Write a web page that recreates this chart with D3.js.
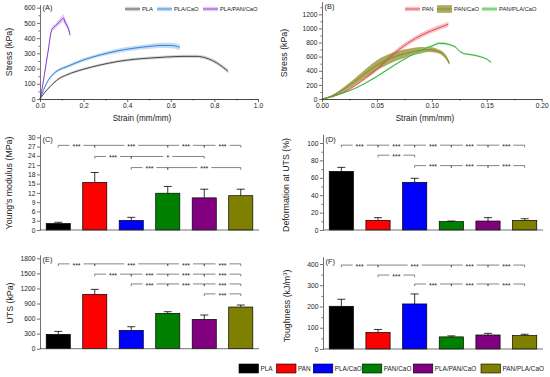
<!DOCTYPE html>
<html><head><meta charset="utf-8">
<script src="https://cdn.jsdelivr.net/npm/d3@7"></script>
<style>
body{margin:0;background:#fff}
text{font-family:"Liberation Sans",Arial,sans-serif;fill:#222}
</style>
</head><body>
<svg id="c" width="550" height="377"></svg>
<script>
// ---------------- DATA ----------------
const groups = ["PLA","PAN","PLA/CaO","PAN/CaO","PLA/PAN/CaO","PAN/PLA/CaO"];
const barColors = ["#000000","#ff0000","#0000ff","#008000","#800080","#808000"];

const youngMean = [2.1,15.4,3.1,11.9,10.4,11.1];
const youngSd   = [0.4,3.2,1.0,2.2,2.8,2.1];
const deformMean = [67.4,11.1,54.8,9.6,10.3,11.1];
const deformSd   = [4.6,3.1,4.6,0.7,3.9,1.9];
const utsMean = [286,1083,365,704,584,830];
const utsSd   = [59,99,73,33,87,40];
const toughMean = [201,78,212,57,66,63];
const toughSd   = [33,14,47,4.7,7.8,6.3];

// significance brackets: [group i, group j, label, height (data units)]
const sigC = [[0,1,"***",27.4],[1,3,"***",27.4],[3,4,"***",27.4],[4,5,"***",27.4],
              [1,2,"***",23.8],[2,4,"*",23.8],
              [2,3,"***",20.2],[3,5,"***",20.2]];
const sigD = [[0,1,"***",97.5],[1,2,"***",97.5],[2,3,"***",97.5],[3,4,"***",97.5],[4,5,"***",97.5],
              [1,2,"***",86],
              [2,3,"***",74],[3,4,"***",74],[4,5,"***",74]];
const sigE = [[0,1,"***",1690],[1,3,"***",1690],[3,4,"***",1690],[4,5,"***",1690],
              [1,2,"***",1485],[2,3,"***",1485],[3,4,"***",1485],[4,5,"***",1485],
              [2,3,"***",1290],[3,4,"***",1290],[4,5,"***",1290],
              [4,5,"***",1092]];
const sigF = [[0,1,"***",395],[1,3,"***",395],[3,4,"***",395],[4,5,"***",395],
              [1,2,"***",348],
              [2,3,"***",306],[3,4,"***",306],[4,5,"***",306]];

// stress-strain curves, panel A
const plaStrain = [0,0.02,0.046,0.084,0.122,0.198,0.275,0.351,0.427,0.504,0.58,0.656,0.72,0.771,0.809,0.84,0.863];
const plaStress = [0,40,81,131,158,195,223,245,260,269,276,280,280,265,239,208,182];
const plaSd     = [0,4,6,7,8,8,8,9,9,10,10,10,10,11,12,13,14];

const plaCaoStrain = [0,0.015,0.03,0.061,0.092,0.122,0.198,0.275,0.351,0.427,0.504,0.55,0.6,0.641];
const plaCaoStress = [0,55,103,164,195,212,256,289,315,333,346,352,352,340];
const plaCaoSd     = [0,5,7,9,10,10,11,12,14,15,16,17,18,18];

const plaPanCaoStrain = [0,0.01,0.02,0.03,0.04,0.048,0.054,0.069,0.084,0.098,0.107,0.115,0.125,0.132,0.138];
const plaPanCaoStress = [0,70,160,250,340,420,455,478,500,520,532,505,480,455,420];
const plaPanCaoSd     = [0,5,8,10,12,14,15,15,18,22,25,22,20,18,15];

// panel B
const panStrain = [0,0.01,0.02,0.03,0.04,0.05,0.06,0.07,0.08,0.09,0.1,0.11,0.115];
const panStress = [0,35,100,190,300,420,570,700,810,900,970,1030,1060];
const panSd     = [0,5,10,15,20,25,30,35,35,35,35,35,35];

const panCaoStrain = [0,0.01,0.02,0.03,0.04,0.05,0.06,0.07,0.08,0.09,0.097,0.105,0.11,0.113,0.116];
const panCaoStress = [0,50,140,250,370,480,560,620,660,690,700,680,640,590,505];
const panCaoSd     = [0,15,30,45,60,70,70,65,55,45,35,30,30,30,25];

const panPlaCaoStrain = [0,0.01,0.02,0.03,0.04,0.05,0.06,0.07,0.08,0.09,0.1,0.107,0.112,0.118,0.122,0.125,0.13,0.137,0.144,0.15,0.154];
const panPlaCaoStress = [0,40,90,150,230,320,420,520,610,690,750,789,785,760,730,680,640,625,600,565,520];
const panPlaCaoSd     = [0,5,8,10,12,14,15,15,16,17,18,18,18,16,15,15,14,14,13,12,12];

const aXTicks = [0,0.2,0.4,0.6,0.8,1.0];
const aYTicks = [0,100,200,300,400,500,600];
const bXTicks = [0,0.05,0.1,0.15,0.2];
const bYTicks = [0,200,400,600,800,1000,1200];
const cTicks = [0,3,6,9,12,15,18,21,24,27,30];
const dTicks = [0,20,40,60,80,100];
const eTicks = [0,300,600,900,1200,1500,1800];
const fTicks = [0,100,200,300,400];

// ---------------- DRAWING ----------------
const svg = d3.select("#c");
const FT = 6.7, FTitle = 8.8, FX = 8.2;

function yAxis(g, scale, ticks, minor, x, fmt){
  const gg = g.append("g").attr("transform",`translate(${x},0)`);
  gg.call(d3.axisLeft(scale).tickValues(ticks).tickSize(3).tickSizeOuter(0).tickPadding(1.5).tickFormat(fmt||d3.format("d")));
  if(minor) gg.append("g").call(d3.axisLeft(scale).tickValues(minor).tickSize(1.6).tickSizeOuter(0).tickFormat(""));
  gg.selectAll("path,line").attr("stroke","#333").attr("stroke-width",0.7);
  gg.selectAll("text").attr("font-size",FT).attr("fill","#222");
  gg.selectAll(".domain").filter((d,i,n)=>n[i].parentNode!==gg.node()).remove();
  return gg;
}
function xAxis(g, scale, ticks, minor, y, fmt){
  const gg = g.append("g").attr("transform",`translate(0,${y})`);
  gg.call(d3.axisBottom(scale).tickValues(ticks).tickSize(3).tickSizeOuter(0).tickPadding(1.5).tickFormat(fmt));
  if(minor) gg.append("g").call(d3.axisBottom(scale).tickValues(minor).tickSize(1.6).tickSizeOuter(0).tickFormat(""));
  gg.selectAll("path,line").attr("stroke","#333").attr("stroke-width",0.7);
  gg.selectAll("text").attr("font-size",FT).attr("fill","#222");
  return gg;
}
function yTitle(x, y){
  return svg.append("text").attr("transform",`translate(${x},${y}) rotate(-90)`)
    .attr("text-anchor","middle").attr("font-size",FTitle);
}

// ---- curve panels ----
function curvePanel(opt){
  const g = svg.append("g");
  const x = d3.scaleLinear().domain(opt.xd).range(opt.xr);
  const y = d3.scaleLinear().domain(opt.yd).range(opt.yr);
  opt.series.forEach(s=>{
    const pts = s.x.map((v,i)=>({x:v,y:s.y[i],sd:s.sd[i]}));
    g.append("path").datum(pts).attr("fill",s.band).attr("fill-opacity",s.bandOp||0.55)
      .attr("d",d3.area().x(d=>x(d.x)).y0(d=>y(Math.max(0,d.y-d.sd))).y1(d=>y(d.y+d.sd)).curve(d3.curveMonotoneX));
  });
  opt.series.forEach(s=>{
    const pts = s.x.map((v,i)=>({x:v,y:s.y[i]}));
    g.append("path").datum(pts).attr("fill","none").attr("stroke",s.line).attr("stroke-width",1)
      .attr("d",d3.line().x(d=>x(d.x)).y(d=>y(d.y)).curve(d3.curveMonotoneX));
  });
  yAxis(g,y,opt.yt,opt.ym,opt.xr[0]);
  xAxis(g,x,opt.xt,opt.xm,opt.yr[0],opt.xf);
  g.append("text").attr("x",opt.xr[0]+2.5).attr("y",opt.labY).attr("font-size",7.4).text(opt.label);
  g.append("text").attr("x",opt.xtx).attr("y",opt.yr[0]+22).attr("text-anchor","middle").attr("font-size",FX).text("Strain (mm/mm)");
  yTitle(opt.ytx,opt.yty).text("Stress (kPa)");
  // legend
  opt.series.forEach((s,i)=>{
    const lx = opt.legX[i], ly = 9;
    g.append("rect").attr("x",lx).attr("y",ly-(s.legH||2.2)).attr("width",15).attr("height",2*(s.legH||2.2))
      .attr("fill",s.band).attr("fill-opacity",s.bandOp||0.55);
    g.append("line").attr("x1",lx).attr("x2",lx+15).attr("y1",ly).attr("y2",ly).attr("stroke",s.line).attr("stroke-width",0.9);
    g.append("text").attr("x",lx+17).attr("y",ly+2).attr("font-size",5.8).text(s.name);
  });
}

curvePanel({
  xd:[0,1],xr:[40,258],yd:[0,620],yr:[99,99-620*0.1522],
  xt:aXTicks,xm:[0.1,0.3,0.5,0.7,0.9],xf:d3.format(".1f"),
  yt:aYTicks,ym:[50,150,250,350,450,550],
  label:"(A)",labY:10,xtx:142,ytx:12,yty:52,legX:[125,157,203],
  series:[
    {name:"PLA",x:plaStrain,y:plaStress,sd:plaSd,line:"#4a4a4a",band:"#a8a8a8",bandOp:0.5},
    {name:"PLA/CaO",x:plaCaoStrain,y:plaCaoStress,sd:plaCaoSd,line:"#3b7fd4",band:"#8cc0ee",bandOp:0.55},
    {name:"PLA/PAN/CaO",x:plaPanCaoStrain,y:plaPanCaoStress,sd:plaPanCaoSd,line:"#8a36d0",band:"#d4a6f0",bandOp:0.6}
  ]
});
curvePanel({
  xd:[0,0.2],xr:[322,541.7],yd:[0,1380],yr:[99,99-1380*0.07058],
  xt:bXTicks,xm:[0.025,0.075,0.125,0.175],xf:d3.format(".2f"),
  yt:bYTicks,ym:[100,300,500,700,900,1100,1300],
  label:"(B)",labY:9,xtx:425,ytx:287,yty:53,legX:[405,437,482],
  series:[
    {name:"PAN",x:panStrain,y:panStress,sd:panSd,line:"#e8454d",band:"#f39aa2",bandOp:0.6},
    {name:"PAN/CaO",x:panCaoStrain,y:panCaoStress,sd:panCaoSd,line:"#8c8a2c",band:"#8e8c2a",bandOp:0.75,legH:3.8},
    {name:"PAN/PLA/CaO",x:panPlaCaoStrain,y:panPlaCaoStress,sd:panPlaCaoSd,line:"#34b234",band:"#98e098",bandOp:0.6}
  ]
});

// ---- bar panels ----
function barPanel(opt){
  const g = svg.append("g");
  const x = d3.scaleBand().domain(groups).range(opt.xr).paddingInner(0.34).paddingOuter(0.17);
  const y = d3.scaleLinear().domain(opt.yd).range(opt.yr);
  const cx = i=>x(groups[i])+x.bandwidth()/2;
  groups.forEach((k,i)=>{
    const top = y(opt.mean[i]+opt.sd[i]);
    g.append("line").attr("x1",cx(i)).attr("x2",cx(i)).attr("y1",y(opt.mean[i])).attr("y2",top).attr("stroke","#000").attr("stroke-width",0.8);
    g.append("line").attr("x1",cx(i)-4).attr("x2",cx(i)+4).attr("y1",top).attr("y2",top).attr("stroke","#000").attr("stroke-width",0.8);
  });
  g.selectAll("rect.bar").data(groups).join("rect").attr("class","bar")
    .attr("x",d=>x(d)).attr("width",x.bandwidth())
    .attr("y",(d,i)=>y(opt.mean[i])).attr("height",(d,i)=>y(0)-y(opt.mean[i]))
    .attr("fill",(d,i)=>barColors[i]).attr("stroke","#000").attr("stroke-width",0.7);
  yAxis(g,y,opt.yt,opt.ym,opt.xr[0]);
  g.append("line").attr("x1",opt.xr[0]).attr("x2",opt.xr[1]).attr("y1",y(0)).attr("y2",y(0)).attr("stroke","#333").attr("stroke-width",0.7);
  g.append("text").attr("x",opt.xr[0]+2.5).attr("y",opt.yr[1]+7.5).attr("font-size",7.4).text(opt.label);
  if(opt.title) yTitle(opt.ytx,opt.yty).text(opt.title);
  opt.sig.forEach(s=>{
    const x1 = cx(s[0]), x2 = cx(s[1]), yy = y(s[3]), m=(x1+x2)/2;
    const gap = s[2]==="*"?4.5:7;
    const p = `M${x1},${yy+2.2}V${yy}H${m-gap}M${m+gap},${yy}H${x2}V${yy+2.2}`;
    g.append("path").attr("d",p).attr("fill","none").attr("stroke","#333").attr("stroke-width",0.6);
    g.append("text").attr("x",m).attr("y",yy+3.8).attr("text-anchor","middle").attr("font-size",7).attr("fill","#333").text(s[2]);
  });
  return g;
}

barPanel({xr:[40,259],yd:[0,31],yr:[230,230-31*3.09],mean:youngMean,sd:youngSd,yt:cTicks,ym:null,
  label:"(C)",title:"Young's modulus (MPa)",ytx:12,yty:183,sig:sigC});
barPanel({xr:[323,543],yd:[0,110],yr:[230,230-110*0.87],mean:deformMean,sd:deformSd,yt:dTicks,ym:[10,30,50,70,90],
  label:"(D)",title:"Deformation at UTS (%)",ytx:289,yty:185,sig:sigD});
barPanel({xr:[40,259],yd:[0,1870],yr:[348.7,348.7-1870*0.0502],mean:utsMean,sd:utsSd,yt:eTicks,ym:null,
  label:"(E)",title:"UTS (kPa)",ytx:13,yty:303,sig:sigE});
barPanel({xr:[323,543],yd:[0,434],yr:[349,349-434*0.2125],mean:toughMean,sd:toughSd,yt:fTicks,ym:[50,150,250,350],
  label:"(F)",title:null,ytx:290,yty:306,sig:sigF});
const tt = yTitle(290,306);
tt.append("tspan").text("Toughness (kJ/m");
tt.append("tspan").attr("font-size",5.8).attr("dy",-3).text("3");
tt.append("tspan").attr("dy",3).text(")");

// bottom legend
const legX = [239,276.5,313.3,362.3,413.3,481];
groups.forEach((k,i)=>{
  svg.append("rect").attr("x",legX[i]).attr("y",364).attr("width",19.5).attr("height",9)
    .attr("fill",barColors[i]).attr("stroke","#000").attr("stroke-width",0.6);
  svg.append("text").attr("x",legX[i]+21.5).attr("y",371).attr("font-size",6.4).text(k);
});
</script>
</body></html>
